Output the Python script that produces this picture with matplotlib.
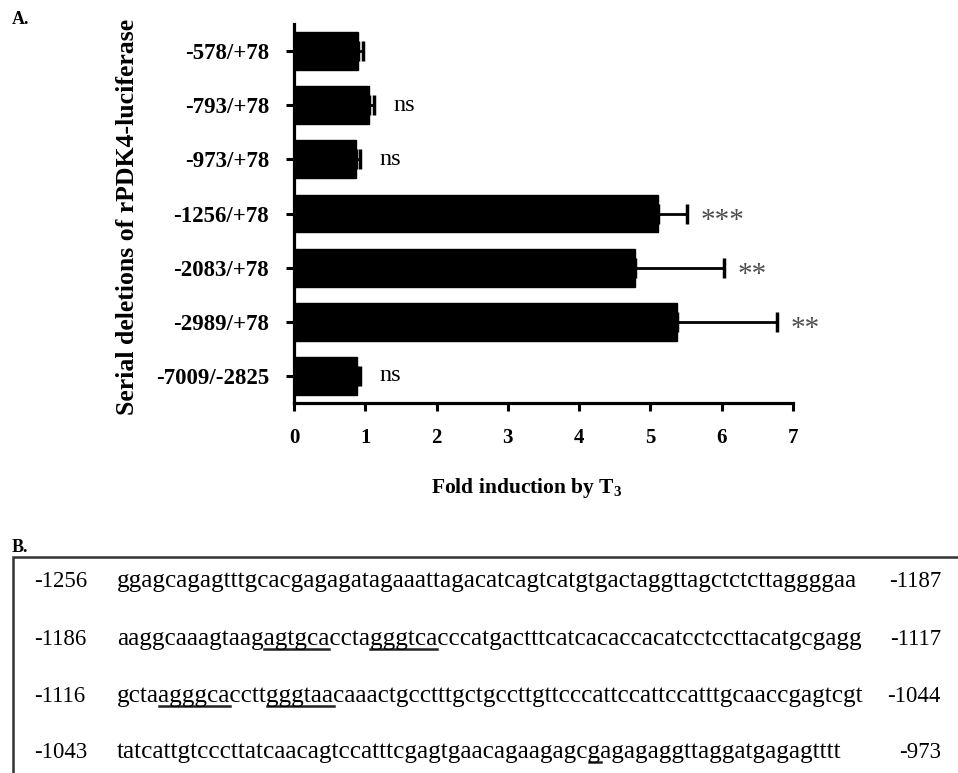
import matplotlib
matplotlib.use("Agg")
import matplotlib.pyplot as plt
from matplotlib.patches import Rectangle

# Dados do painel A
construtos = ["-578/+78", "-793/+78", "-973/+78", "-1256/+78",
              "-2083/+78", "-2989/+78", "-7009/-2825"]
inducao = [0.90, 1.05, 0.87, 5.11, 4.79, 5.37, 0.88]
erro = [0.07, 0.07, 0.06, 0.40, 1.24, 1.40, 0.05]
signif = ["", "ns", "ns", "***", "**", "**", "ns"]
xticks = [0, 1, 2, 3, 4, 5, 6, 7]

# Dados do painel B (sequência)
seq_inicio = ["-1256", "-1186", "-1116", "-1043"]
seq_fim = ["-1187", "-1117", "-1044", "-973"]
sequencias = [
    "ggagcagagtttgcacgagagatagaaattagacatcagtcatgtgactaggttagctctcttaggggaa",
    "aaggcaaagtaagagtgcacctagggtcacccatgactttcatcacaccacatcctccttacatgcgagg",
    "gctaagggcaccttgggtaacaaactgcctttgctgccttgttcccattccattccatttgcaaccgagtcgt",
    "tatcattgtcccttatcaacagtccatttcgagtgaacagaagagcgagagaggttaggatgagagtttt",
]
# (início, comprimento) dos trechos sublinhados
sublinhados = [[], [(13, 6), (23, 6)], [(4, 6), (14, 6)], [(46, 1)]]

W, H = 958, 773
serif = "Liberation Serif"
plt.rcParams["mathtext.fontset"] = "custom"
plt.rcParams["mathtext.rm"] = "Liberation Serif:bold"
plt.rcParams["mathtext.it"] = "Liberation Serif:bold"

fig = plt.figure(figsize=(W / 100, H / 100), dpi=100)

# Painel A
ax = fig.add_axes([294 / W, 1 - 403 / H, (793 - 294) / W, (403 - 24) / H])
pos = list(range(len(construtos)))
ax.barh(pos, inducao, height=0.7, color="black", edgecolor="black")
ax.errorbar(inducao, pos, xerr=[[0] * len(erro), erro], fmt="none",
            ecolor="black", elinewidth=2, capsize=7, capthick=2.5)

for i in pos:
    if not signif[i]:
        continue
    if "*" in signif[i]:
        ax.text(inducao[i] + erro[i] + 0.19, i + 0.14, signif[i], ha="left", va="center",
                fontsize=21, family=serif, color="#4d4d4d")
    else:
        ax.text(inducao[i] + erro[i] + 0.27, i, signif[i], ha="left", va="center",
                fontsize=17.5, family=serif, color="black")

ax.set_xlim(0, 7)
ax.set_ylim(6.5, -0.5)
ax.set_xticks(xticks)
ax.set_xticklabels([str(v) for v in xticks], fontsize=15, family=serif, fontweight="bold")
ax.set_yticks(pos)
ax.set_yticklabels(construtos, fontsize=16.5, family=serif, fontweight="bold")
for s in ["top", "right"]:
    ax.spines[s].set_visible(False)
for s in ["left", "bottom"]:
    ax.spines[s].set_linewidth(2.3)
ax.tick_params(axis="both", direction="out", length=6, width=2.2, pad=12)

fig.text(527 / W, 1 - 488 / H, r"Fold induction by T$_3$", ha="center", va="center",
         fontsize=15.5, family=serif, fontweight="bold")
fig.text(128 / W, 1 - 217 / H, "Serial deletions of rPDK4-luciferase", rotation=90,
         ha="center", va="center", fontsize=18.5, family=serif, fontweight="bold")

fig.text(12 / W, 1 - 20 / H, "A.", ha="left", va="center", fontsize=13,
         family=serif, fontweight="bold")
fig.text(12 / W, 1 - 547 / H, "B.", ha="left", va="center", fontsize=13,
         family=serif, fontweight="bold")

# Painel B: caixa com a sequência
fig.patches.append(Rectangle((13 / W, -0.1), 1.2, 0.1 + 1 - 557 / H, transform=fig.transFigure,
                             fill=False, edgecolor="#333333", linewidth=1.8, clip_on=False))

renderer = fig.canvas.get_renderer()
baselines = [587, 645, 702, 758]
larguras = [745, 751, 751, 730]
x_seq = 117


def largura_texto(texto, tamanho):
    t = fig.text(0, 0, texto, fontsize=tamanho, family=serif)
    w = t.get_window_extent(renderer).width
    t.remove()
    return w


for i, seq in enumerate(sequencias):
    yb = 1 - baselines[i] / H
    fig.text(34 / W, yb, seq_inicio[i], ha="left", va="baseline", fontsize=16.5, family=serif)
    fig.text(941 / W, yb, seq_fim[i], ha="right", va="baseline", fontsize=16.5, family=serif)
    tam = 15 * larguras[i] / largura_texto(seq, 15)
    fig.text(x_seq / W, yb, seq, ha="left", va="baseline", fontsize=tam, family=serif)
    for ini, n in sublinhados[i]:
        x0 = x_seq + largura_texto(seq[:ini], tam) if ini else x_seq
        x1 = x_seq + largura_texto(seq[:ini + n], tam)
        y_lin = 1 - (baselines[i] + 4) / H
        fig.add_artist(plt.Line2D([x0 / W, x1 / W], [y_lin, y_lin], color="#222222",
                                  linewidth=1.8, transform=fig.transFigure))

plt.savefig("out.png", dpi=100)
plt.close()
